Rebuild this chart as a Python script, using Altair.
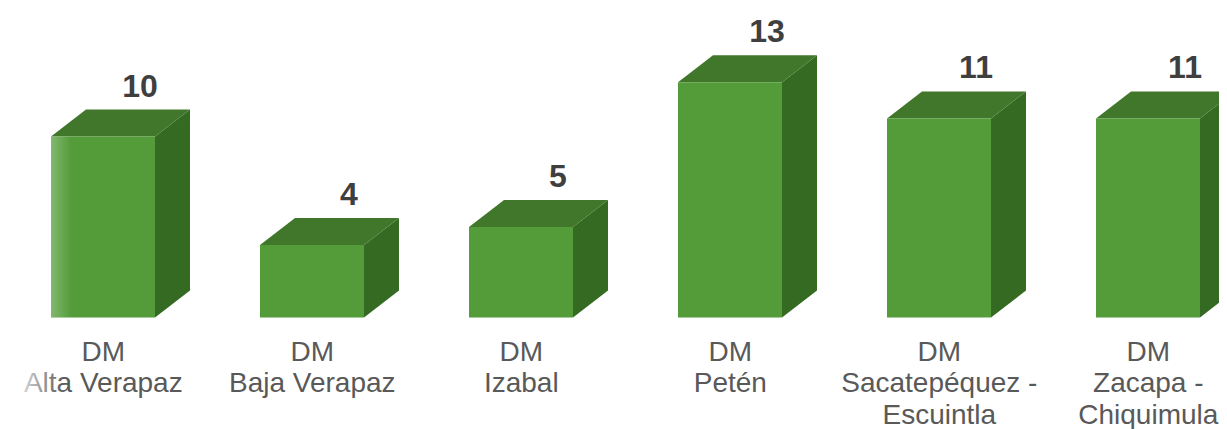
import altair as alt
import pandas as pd

# --- chart data ---
CATEGORIES = ["DM Alta Verapaz", "DM Baja Verapaz", "DM Izabal", "DM Petén",
              "DM Sacatepéquez - Escuintla", "DM Zacapa - Chiquimula"]
LABEL_LINES = [["DM", "Alta Verapaz"], ["DM", "Baja Verapaz"], ["DM", "Izabal"], ["DM", "Petén"],
               ["DM", "Sacatepéquez -", "Escuintla"], ["DM", "Zacapa -", "Chiquimula"]]
VALUES = [10, 4, 5, 13, 11, 11]

# --- geometry of the pseudo-3D box, in scale units ---
W, H = 1211, 421
PX_PER_SLOT, PX_PER_VALUE = 209.0, 18.1
HALF = 52 / PX_PER_SLOT
DX = 35 / PX_PER_SLOT
DY = 27 / PX_PER_VALUE
X_DOMAIN = [-95 / PX_PER_SLOT, (W - 95) / PX_PER_SLOT]
BASE_PX = 309.5
Y_DOMAIN = [-(H - BASE_PX) / PX_PER_VALUE, BASE_PX / PX_PER_VALUE]

x_s = alt.Scale(domain=X_DOMAIN, nice=False, zero=False)
y_s = alt.Scale(domain=Y_DOMAIN, nice=False, zero=False)
X = lambda f: alt.X(f, type="quantitative", scale=x_s, axis=None)
Y = lambda f: alt.Y(f, type="quantitative", scale=y_s, axis=None)

front, top, side, vals, labs = [], [], [], [], []
for i, (c, v, lines) in enumerate(zip(CATEGORIES, VALUES, LABEL_LINES)):
    L, R = i - HALF, i + HALF
    front.append(dict(cat=c, x=L, x2=R, y=0, y2=v))
    for px, a, b in [(L, v, v), (L + DX, v + DY, v), (R, v + DY, v), (R + DX, v + DY, v + DY)]:
        top.append(dict(cat=c, x=px, y=a, y2=b))
    for px, a, b in [(R, v, 0), (R + DX, v + DY, DY)]:
        side.append(dict(cat=c, x=px, y=a, y2=b))
    vals.append(dict(cat=c, x=i + 37 / PX_PER_SLOT, y=v + DY + 13 / PX_PER_VALUE, v=v))
    for r, t in enumerate(lines):
        labs.append(dict(cat=c, x=i + 0.3 / PX_PER_SLOT, y=-(43 + 31.5 * r) / PX_PER_VALUE, t=t))

front, top, side, vals, labs = map(pd.DataFrame, (front, top, side, vals, labs))

side_l = alt.Chart(side).mark_area(color="#356a22", clip=True, orient="vertical").encode(
    x=X("x"), y=Y("y"), y2="y2", detail="cat:N")
top_l = alt.Chart(top).mark_area(color="#41772b", clip=True, orient="vertical").encode(
    x=X("x"), y=Y("y"), y2="y2", detail="cat:N")
front_l = alt.Chart(front).mark_rect(color="#549c3a").encode(
    x=X("x"), x2="x2", y=Y("y"), y2="y2")

fade_bar = alt.Chart(front.iloc[[0]].assign(x2=lambda d: d.x + 20 / PX_PER_SLOT)).mark_rect(
    color=alt.LinearGradient(gradient="linear", x1=0, y1=0, x2=1, y2=0, stops=[
        alt.GradientStop(color="rgba(255,255,255,0.28)", offset=0),
        alt.GradientStop(color="rgba(255,255,255,0)", offset=1)])
).encode(x=X("x"), x2="x2", y=Y("y"), y2="y2")

fade_text = alt.Chart(pd.DataFrame([dict(
    x=(20 - 103) / PX_PER_SLOT, x2=(64 - 103) / PX_PER_SLOT,
    y=-50 / PX_PER_VALUE, y2=-85 / PX_PER_VALUE)])).mark_rect(
    color=alt.LinearGradient(gradient="linear", x1=0, y1=0, x2=1, y2=0, stops=[
        alt.GradientStop(color="rgba(255,255,255,0.8)", offset=0),
        alt.GradientStop(color="rgba(255,255,255,0)", offset=1)])
).encode(x=X("x"), x2="x2", y=Y("y"), y2="y2")

val_l = alt.Chart(vals).mark_text(
    font="Arial", fontWeight="bold", fontSize=32, color="#3f3f3f",
    align="center", baseline="alphabetic"
).encode(x=X("x"), y=Y("y"), text="v:Q")

lab_l = alt.Chart(labs).mark_text(
    font="Arial", fontSize=28, color="#595959",
    align="center", baseline="alphabetic"
).encode(x=X("x"), y=Y("y"), text="t:N")

chart = alt.layer(side_l, top_l, front_l, fade_bar, val_l, lab_l, fade_text).properties(
    width=W, height=H, padding=0, autosize=alt.AutoSizeParams(type="none"),
    background="white"
).configure_view(stroke=None)

chart.save("out.html", embed_options={"renderer": "svg", "actions": False})
